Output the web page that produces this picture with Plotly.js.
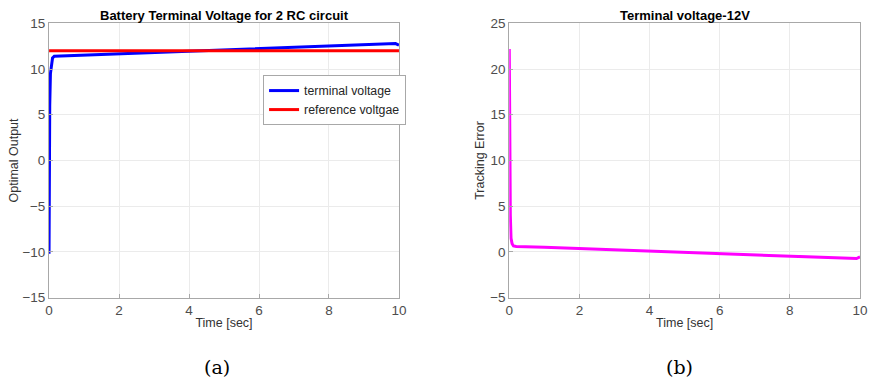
<!DOCTYPE html>
<html>
<head>
<meta charset="utf-8">
<script src="https://cdn.plot.ly/plotly-3.0.1.min.js"></script>
<style>
  html, body { margin: 0; padding: 0; background: #fff; }
  #chart { width: 874px; height: 385px; }
</style>
</head>
<body>
<div id="chart"></div>
<script>
// Time samples [sec]
const timeV = [0, 0.005, 0.01, 0.02, 0.04, 0.07, 0.1, 0.15, 1, 2, 3, 4, 5, 6, 7, 8, 9, 9.8, 9.9, 10];
// Terminal voltage of the 2-RC battery model [V]
const terminalVoltage = [-10.2, -5, 1.5, 6, 9.5, 10.8, 11.2, 11.4, 11.52, 11.66, 11.8, 11.93, 12.06, 12.19, 12.32, 12.46, 12.6, 12.75, 12.78, 12.6];
// Reference voltage [V]
const refTime = [0, 10];
const referenceVoltage = [12, 12];

// Tracking error (reference minus terminal voltage)
const timeE = [0, 0.01, 0.03, 0.05, 0.08, 0.12, 0.2, 1, 2, 3, 4, 5, 6, 7, 8, 9, 9.8, 9.9, 10];
const trackingError = [22.2, 12, 4, 1.5, 0.9, 0.65, 0.6, 0.5, 0.37, 0.24, 0.11, -0.02, -0.15, -0.28, -0.42, -0.56, -0.72, -0.72, -0.55];

const xTicks = [0, 2, 4, 6, 8, 10];
const yTicksA = [-15, -10, -5, 0, 5, 10, 15];
const yTicksB = [-5, 0, 5, 10, 15, 20, 25];

const sans = 'Liberation Sans, Arial, sans-serif';
const tickFont = { family: sans, size: 13.5, color: '#4d4d4d' };
const titleFont = { family: sans, size: 12.5, color: '#333333' };

function axisStyle(extra) {
  return Object.assign({
    showline: true, mirror: true, linecolor: '#a8a8a8', linewidth: 1,
    showgrid: true, gridcolor: '#ebebeb', gridwidth: 1,
    zeroline: false, ticks: 'inside', ticklen: 4, tickcolor: '#a8a8a8',
    tickfont: tickFont, fixedrange: true
  }, extra);
}

const traces = [
  { x: timeV, y: terminalVoltage, type: 'scatter', mode: 'lines', name: 'terminal voltage',
    line: { color: '#0000ff', width: 3 }, xaxis: 'x', yaxis: 'y' },
  { x: refTime, y: referenceVoltage, type: 'scatter', mode: 'lines', name: 'reference voltgae',
    line: { color: '#ff0000', width: 3 }, xaxis: 'x', yaxis: 'y' },
  { x: timeE, y: trackingError, type: 'scatter', mode: 'lines', name: 'tracking error',
    line: { color: '#ff00ff', width: 3 }, xaxis: 'x2', yaxis: 'y2', showlegend: false }
];

const yDom = [0.2268, 0.9395];

const layout = {
  width: 874, height: 385,
  margin: { l: 0, r: 0, t: 0, b: 0 },
  paper_bgcolor: '#ffffff', plot_bgcolor: '#ffffff',
  showlegend: true,
  legend: {
    x: 0.301, y: 0.805, xanchor: 'left', yanchor: 'top',
    bgcolor: '#ffffff', bordercolor: '#a8a8a8', borderwidth: 1,
    font: { family: sans, size: 12.3, color: '#262626' },
    tracegroupgap: 0, itemwidth: 30
  },
  xaxis: axisStyle({ domain: [0.0561, 0.4565], range: [0, 10], tickvals: xTicks, anchor: 'y',
    title: { text: 'Time [sec]', font: titleFont, standoff: 1 } }),
  yaxis: axisStyle({ domain: yDom, range: [-15, 15], tickvals: yTicksA, anchor: 'x',
    title: { text: 'Optimal Output', font: titleFont, standoff: 1 } }),
  xaxis2: axisStyle({ domain: [0.5827, 0.984], range: [0, 10], tickvals: xTicks, anchor: 'y2',
    title: { text: 'Time [sec]', font: titleFont, standoff: 1 } }),
  yaxis2: axisStyle({ domain: yDom, range: [-5, 25], tickvals: yTicksB, anchor: 'x2',
    title: { text: 'Tracking Error', font: titleFont, standoff: 2 } }),
  annotations: [
    { text: '<b>Battery Terminal Voltage for 2 RC circuit</b>', xref: 'paper', yref: 'paper',
      x: 0.2569, y: 0.959, xanchor: 'center', yanchor: 'middle', showarrow: false,
      font: { family: sans, size: 13, color: '#000' } },
    { text: '<b>Terminal voltage-12V</b>', xref: 'paper', yref: 'paper',
      x: 0.7834, y: 0.959, xanchor: 'center', yanchor: 'middle', showarrow: false,
      font: { family: sans, size: 13, color: '#000' } },
    { text: '(a)', xref: 'paper', yref: 'paper', x: 0.2483, y: 0.047, xanchor: 'center', yanchor: 'middle',
      showarrow: false, font: { family: 'DejaVu Serif, Liberation Serif, serif', size: 19, color: '#000' } },
    { text: '(b)', xref: 'paper', yref: 'paper', x: 0.778, y: 0.047, xanchor: 'center', yanchor: 'middle',
      showarrow: false, font: { family: 'DejaVu Serif, Liberation Serif, serif', size: 19, color: '#000' } }
  ]
};

Plotly.newPlot('chart', traces, layout, { displayModeBar: false, staticPlot: true });
</script>
</body>
</html>
